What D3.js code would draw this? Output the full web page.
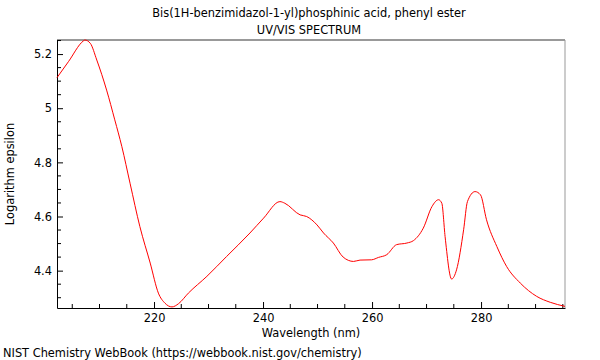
<!DOCTYPE html>
<html>
<head>
<meta charset="utf-8">
<script src="https://cdn.jsdelivr.net/npm/d3@7"></script>
<style>
  body { margin: 0; background: #fff; }
  svg { display: block; font-family: "DejaVu Sans", sans-serif; }
</style>
</head>
<body>
<div id="chart"></div>
<script>
// Espectro (comprimento de onda em nm, log epsilon)
const wavelength = [202.2, 204.3, 207.0, 207.3, 208.3, 209.5, 211.3, 212.8, 214.1, 215.6,
  217.4, 219.3, 220.8, 222.0, 223.3, 224.5, 226.3, 229.7, 233.3, 237.6,
  240.1, 243.1, 244.0, 246.8, 248.0, 249.9, 251.1, 252.9, 254.7, 256.6,
  257.8, 259.9, 261.2, 262.7, 264.5, 266.4, 267.6, 269.4, 271.0, 272.2,
  272.8, 273.4, 274.6, 275.5, 276.8, 277.5, 278.9, 279.9, 281.0, 282.9,
  284.7, 287.2, 290.2, 292.7, 295.4];
const logEps = [5.113, 5.172, 5.248, 5.252, 5.240, 5.178, 5.067, 4.957, 4.858, 4.723,
  4.563, 4.428, 4.317, 4.280, 4.266, 4.278, 4.317, 4.379, 4.452, 4.539,
  4.594, 4.655, 4.649, 4.606, 4.600, 4.569, 4.539, 4.502, 4.450, 4.434,
  4.439, 4.440, 4.449, 4.459, 4.496, 4.502, 4.511, 4.557, 4.637, 4.662,
  4.649, 4.526, 4.369, 4.403, 4.551, 4.655, 4.692, 4.680, 4.588, 4.489,
  4.415, 4.354, 4.305, 4.283, 4.268];
const xTicks = [220, 240, 260, 280];
const yTicks = [4.4, 4.6, 4.8, 5.0, 5.2];

const width = 600, height = 360;
const margin = { top: 40, right: 35, bottom: 52, left: 57 };
const innerW = width - margin.left - margin.right;
const innerH = height - margin.top - margin.bottom;
const fs = 11.4;

const svg = d3.select('#chart').append('svg')
  .attr('width', width)
  .attr('height', height);

const x = d3.scaleLinear().domain([202.2, 295.4]).range([0, innerW]);
const y = d3.scaleLinear().domain([4.262, 5.252]).range([innerH, 0]);

const g = svg.append('g').attr('transform', `translate(${margin.left},${margin.top})`);

// Títulos
svg.append('text').attr('x', 309).attr('y', 17).attr('text-anchor', 'middle')
  .attr('font-size', fs).text('Bis(1H-benzimidazol-1-yl)phosphinic acid, phenyl ester');
svg.append('text').attr('x', 309).attr('y', 34).attr('text-anchor', 'middle')
  .attr('font-size', fs).text('UV/VIS SPECTRUM');

// Moldura cinza (topo e direita)
g.append('line').attr('x1', 0).attr('x2', innerW).attr('y1', 0).attr('y2', 0)
  .attr('stroke', '#999').attr('stroke-width', 2);
g.append('line').attr('x1', innerW).attr('x2', innerW).attr('y1', 0).attr('y2', innerH)
  .attr('stroke', '#999').attr('stroke-width', 1);

// Ticks menores
const xMinor = d3.range(205, 296, 5).filter(v => !xTicks.includes(v));
const yMinor = d3.range(4.3, 5.26, 0.05).map(v => +v.toFixed(2)).filter(v => !yTicks.some(t => Math.abs(t - v) < 1e-6));

g.append('g').selectAll('line').data(xMinor).enter().append('line')
  .attr('x1', d => x(d)).attr('x2', d => x(d))
  .attr('y1', innerH).attr('y2', innerH - 4)
  .attr('stroke', '#000');
g.append('g').selectAll('line').data(yMinor).enter().append('line')
  .attr('y1', d => y(d)).attr('y2', d => y(d))
  .attr('x1', 0).attr('x2', 4)
  .attr('stroke', '#000');

// Eixos
const xAxis = g.append('g').attr('transform', `translate(0,${innerH})`)
  .call(d3.axisBottom(x).tickValues(xTicks).tickSizeInner(-6).tickSizeOuter(0).tickPadding(6));
const yAxis = g.append('g')
  .call(d3.axisLeft(y).tickValues(yTicks).tickFormat(d3.format('~g')).tickSizeInner(-6).tickSizeOuter(0).tickPadding(5));

[xAxis, yAxis].forEach(a => {
  a.select('.domain').attr('stroke', '#000');
  a.selectAll('text').attr('font-size', fs).attr('font-family', '"DejaVu Sans", sans-serif').attr('fill', '#000');
});

// Curva
const line = d3.line()
  .x((d, i) => x(wavelength[i]))
  .y(d => y(d))
  .curve(d3.curveMonotoneX);

g.append('path')
  .datum(logEps)
  .attr('fill', 'none')
  .attr('stroke', '#ff0000')
  .attr('stroke-width', 1)
  .attr('d', line);

// Rótulos dos eixos
svg.append('text').attr('x', margin.left + innerW / 2).attr('y', 337).attr('text-anchor', 'middle')
  .attr('font-size', fs).text('Wavelength (nm)');
svg.append('text').attr('transform', `translate(14,${margin.top + innerH / 2}) rotate(-90)`)
  .attr('text-anchor', 'middle').attr('font-size', fs).text('Logarithm epsilon');

svg.append('text').attr('x', 3).attr('y', 357).attr('font-size', fs)
  .text('NIST Chemistry WebBook (https://webbook.nist.gov/chemistry)');
</script>
</body>
</html>
